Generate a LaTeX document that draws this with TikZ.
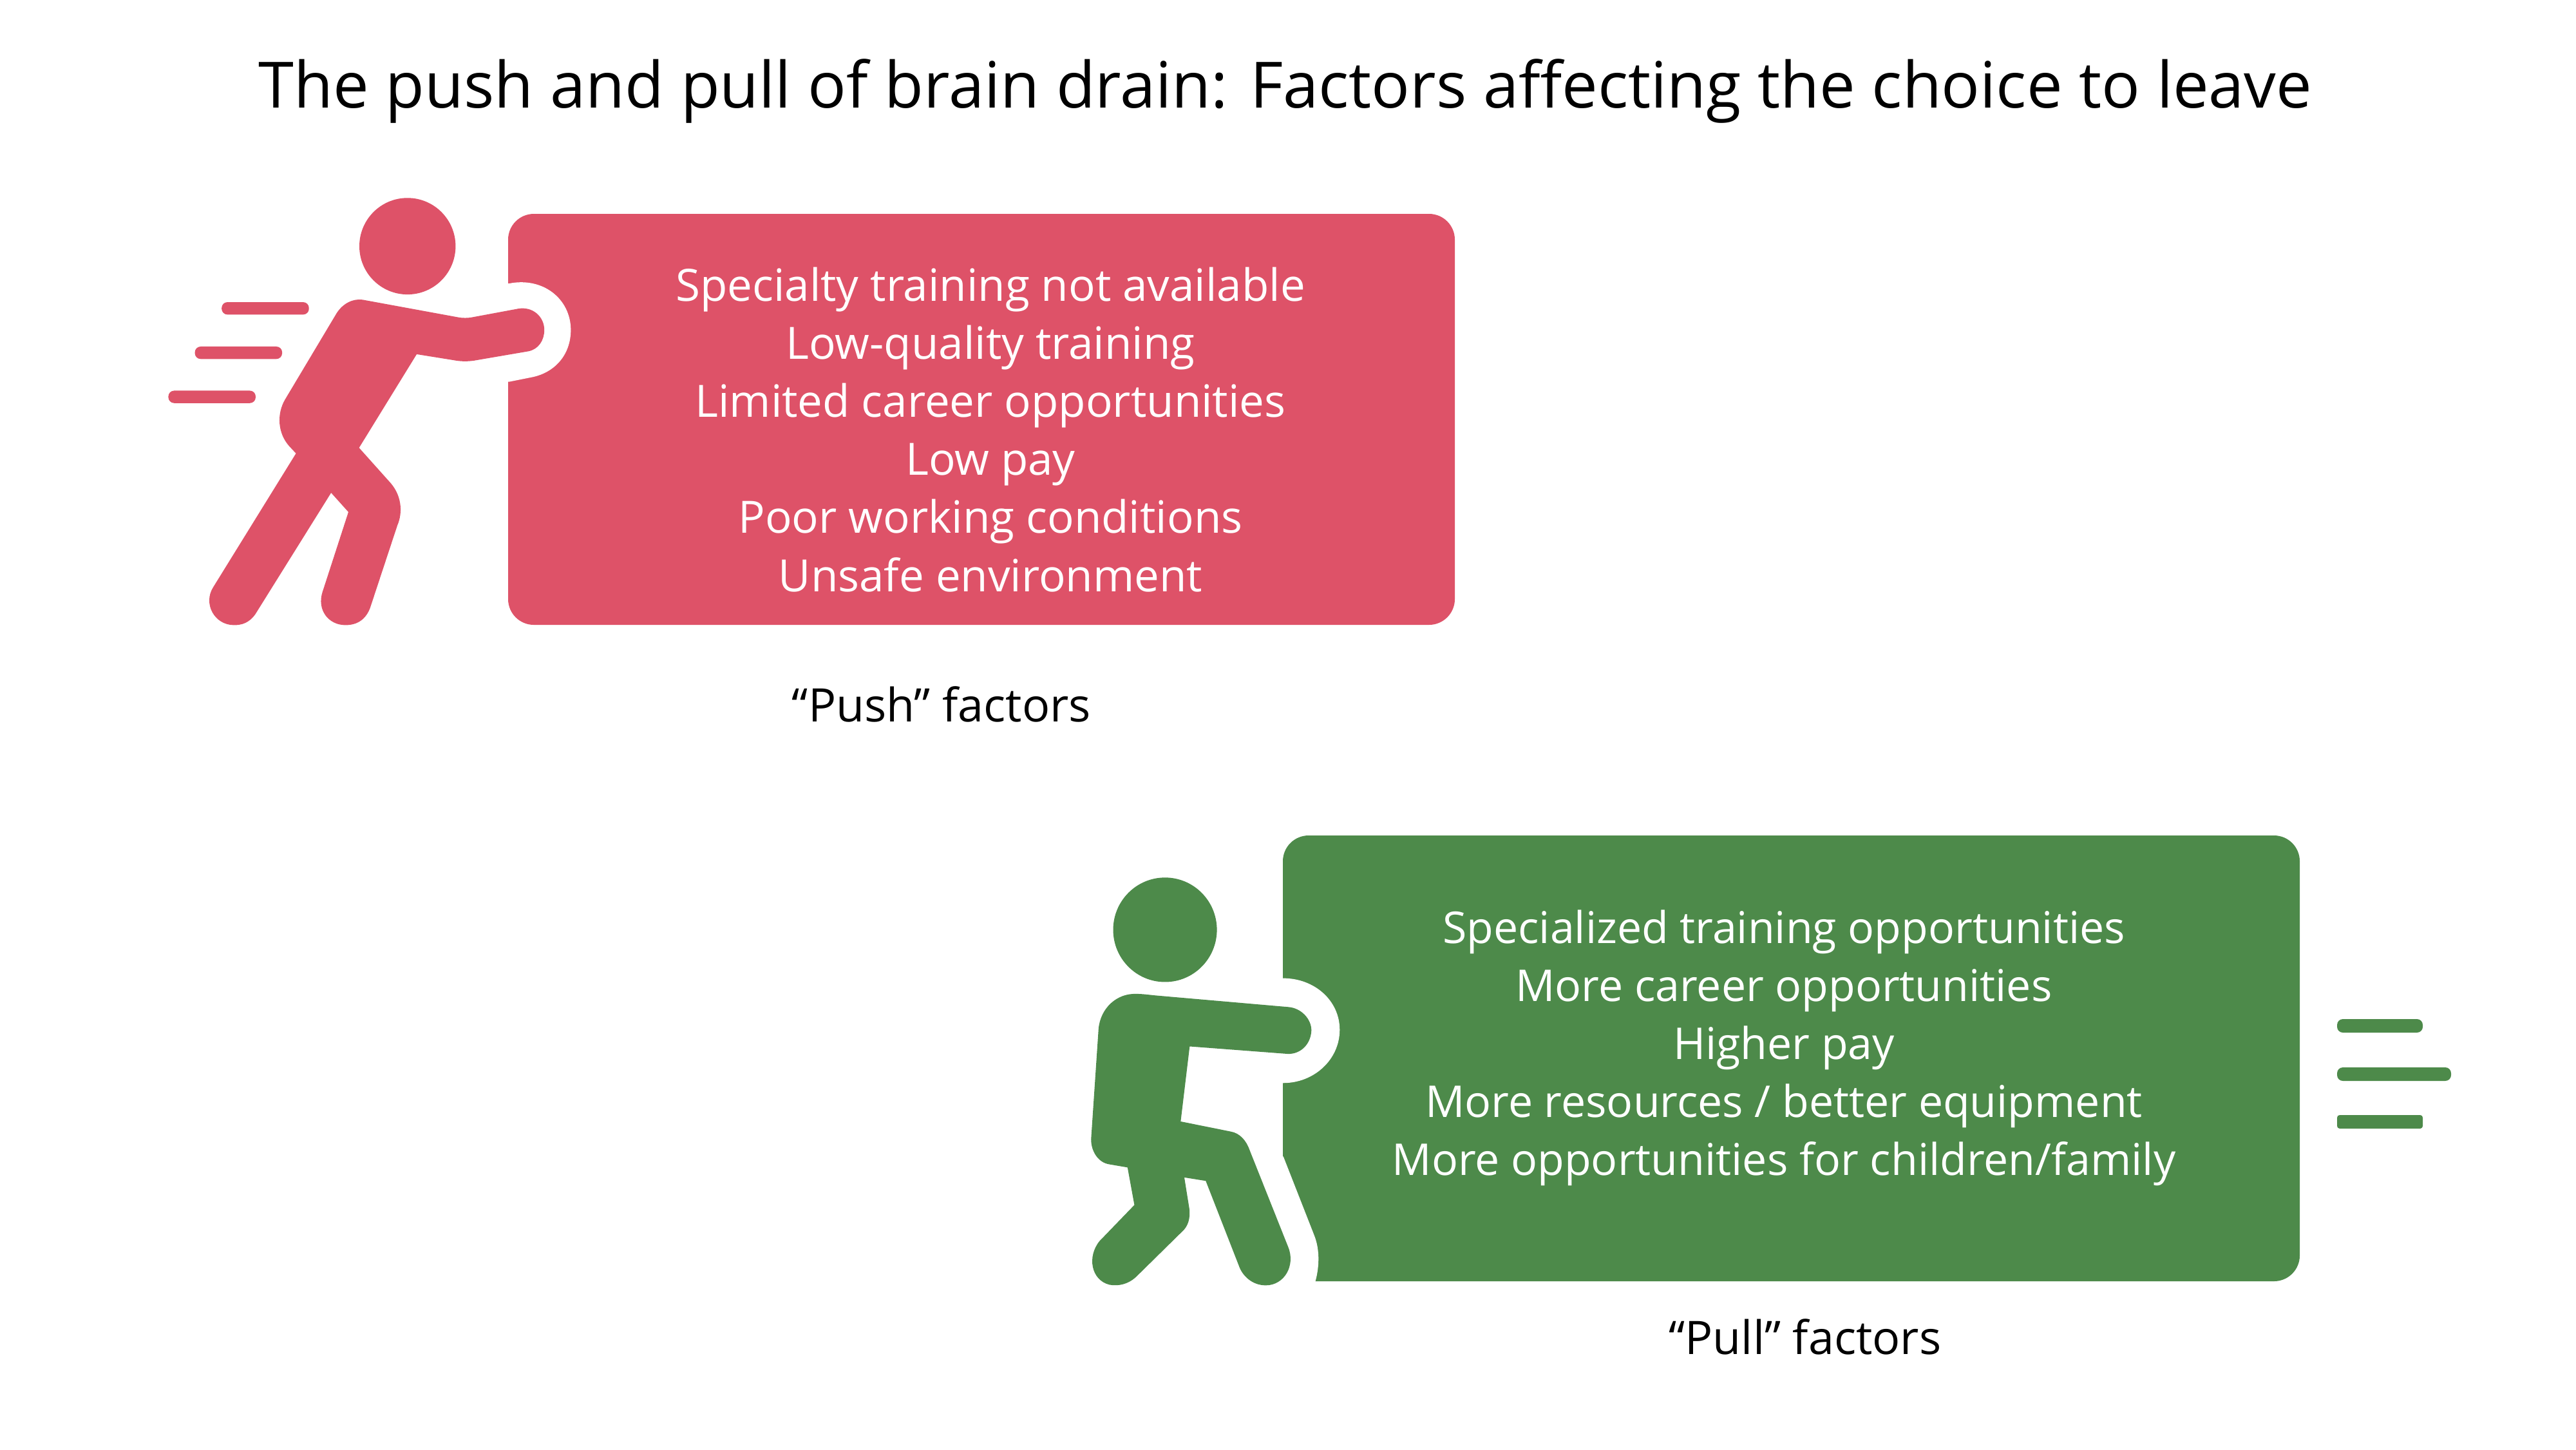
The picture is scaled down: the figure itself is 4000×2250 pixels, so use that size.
\documentclass[tikz,border=0pt]{standalone}
\usepackage{fontspec}
\setmainfont{Open Sans}
\definecolor{pushred}{HTML}{DE5268}
\definecolor{pullgreen}{HTML}{4D8A4A}
\tikzset{
  card/.style={rounded corners=40*0.01cm,inner sep=0pt,minimum width=0pt},
  cardtext/.style={text=white,align=center,inner sep=0pt},
  caption/.style={text=black,font=\fontsize{20.4}{25.6}\selectfont,inner sep=0pt},
  headline/.style={text=black,font=\fontsize{28.2}{36}\selectfont,inner sep=0pt},
  redzoom/.style={x=0.0044643cm,y=-0.0045918cm,shift={(2.3cm,-2.8cm)}},
  greenzoom/.style={x=0.0033333cm,y=-0.004847cm,shift={(16.5cm,-12.8cm)}},
  speedline/.style={rounded corners=9*0.01cm}
}
\begin{document}
\begin{tikzpicture}[x=0.01cm,y=-0.01cm]
\useasboundingbox (0,0) rectangle (4000,2250);
\fill[white] (0,0) rectangle (4000,2250);
\node[headline] (title) at (1996,141) {The push and pull of brain drain: Factors affecting the choice to leave};
% push card
\fill[pushred,card] (789,332) rectangle (2259,970);
\begin{scope}[redzoom]
\fill[white] (1200,348) -- (1253,348) .. controls (1370,325) and (1467,400) .. (1467,505) .. controls (1467,590) and (1410,650) .. (1330,665) -- (1253,680) -- (1200,680) -- cycle;
\fill[pushred] (900,222) ellipse [x radius=167,y radius=163];
\fill[pushred] (745,403) -- (1075,462) .. controls (1090,465) and (1110,465) .. (1125,462) -- (1285,433) .. controls (1335,425) and (1375,460) .. (1375,505) .. controls (1375,540) and (1355,570) .. (1320,577) -- (1140,607) .. controls (1115,612) and (1085,612) .. (1060,607) -- (932,587) -- (732,903) -- (835,1015) .. controls (880,1060) and (885,1120) .. (865,1165) -- (770,1445) .. controls (750,1495) and (710,1502) .. (685,1502) .. controls (625,1502) and (585,1450) .. (605,1390) -- (695,1120) -- (635,1055) -- (372,1465) .. controls (350,1495) and (325,1502) .. (298,1502) .. controls (230,1502) and (190,1430) .. (225,1375) -- (513,922) -- (490,898) .. controls (450,855) and (445,790) .. (475,740) -- (650,455) .. controls (670,420) and (705,398) .. (745,403) -- cycle;
\fill[pushred,speedline] (255,411) rectangle (558,453);
\fill[pushred,speedline] (162,561) rectangle (465,603);
\fill[pushred,speedline] (70,710) rectangle (373,752);
\end{scope}
\node[cardtext,font=\fontsize{19.65}{25.6}\selectfont] (pushlist) at (1538,667) {Specialty training not available\\Low-quality training\\Limited career opportunities\\Low pay\\Poor working conditions\\Unsafe environment};
\node[caption] (pushcap) at (1462,1093) {“Push” factors};
% pull card
\fill[pullgreen,card] (1992,1297) rectangle (3571,1989);
\begin{scope}[greenzoom]
\fill[white] (1000,490) -- (1027,490) .. controls (1170,490) and (1290,560) .. (1290,655) .. controls (1290,750) and (1170,825) .. (1027,825) -- (1000,825) -- cycle;
\fill[white] (1000,1060) -- (1027,1060) -- (1170,1310) .. controls (1200,1360) and (1195,1420) .. (1172,1470) -- (1000,1470) -- cycle;
\fill[pullgreen] (475,335) ellipse [x radius=242,y radius=167];
\fill[pullgreen] (340,540) .. controls (370,540) and (400,543) .. (430,545) -- (1050,582) .. controls (1110,585) and (1158,620) .. (1158,657) .. controls (1155,700) and (1110,732) .. (1050,732) -- (590,708) -- (548,948) -- (780,980) .. controls (825,985) and (855,1010) .. (870,1040) -- (1050,1350) .. controls (1085,1410) and (1030,1472) .. (945,1472) .. controls (880,1472) and (835,1440) .. (820,1410) -- (665,1138) -- (565,1127) -- (588,1225) .. controls (595,1260) and (580,1285) .. (555,1300) -- (340,1445) .. controls (300,1470) and (255,1475) .. (215,1470) .. controls (130,1455) and (110,1380) .. (170,1330) -- (332,1215) -- (300,1095) -- (215,1085) .. controls (165,1080) and (130,1045) .. (130,1005) -- (165,650) .. controls (175,585) and (250,538) .. (340,540) -- cycle;
\end{scope}
\fill[pullgreen,speedline] (3629,1582) rectangle (3762,1603);
\fill[pullgreen,speedline] (3629,1657) rectangle (3806,1678);
\fill[pullgreen,rounded corners=0.04cm] (3629,1731) rectangle (3762,1752);
\node[cardtext,font=\fontsize{19.35}{25.6}\selectfont] (pulllist) at (2770,1627) {Specialized training opportunities\\More career opportunities\\Higher pay\\More resources / better equipment\\More opportunities for children/family};
\node[caption] (pullcap) at (2803,2075) {“Pull” factors};
\end{tikzpicture}
\end{document}
